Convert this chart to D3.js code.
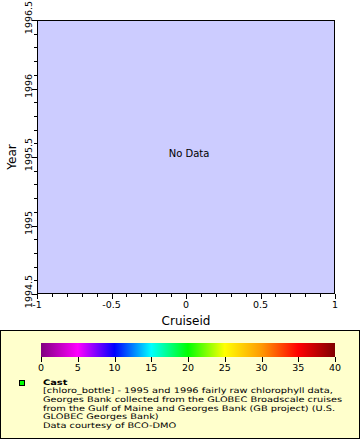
<!DOCTYPE html>
<html><head><meta charset="utf-8">
<script src="https://cdn.jsdelivr.net/npm/d3@7"></script>
<style>body{margin:0;background:#fff}svg{display:block;font-family:"DejaVu Sans",sans-serif}</style>
</head><body><svg id="c" width="360" height="440"></svg>
<script>
// Data (the reference has no data points)
const castCruiseid = [];
const castYear = [];
const xDomain = [-1, 1];
const yDomain = [1994.5, 1996.5];
const xTickLabels = ["-1", "-0.5", "0", "0.5", "1"];
const yTickLabels = ["1994.5", "1995", "1995.5", "1996", "1996.5"];
const cbarDomain = [0, 40];
const cbarTicks = [0, 5, 10, 15, 20, 25, 30, 35, 40];
const cbarStopValues = [0, 5, 10, 15, 20, 25, 30, 35, 40];
const cbarColors = ["#800080", "#ff00ff", "#0000ff", "#00ffff", "#00ff00", "#ffff00", "#ff9900", "#ff0000", "#800000"];
const legendTitle = "Cast";
const legendLines = [
  "[chloro_bottle] - 1995 and 1996 fairly raw chlorophyll data,",
  "Georges Bank collected from the GLOBEC Broadscale cruises",
  "from the Gulf of Maine and Georges Bank (GB project) (U.S.",
  "GLOBEC Georges Bank)",
  "Data courtesy of BCO-DMO"
];

const svg = d3.select("#c");
const L = 37, R = 335, T = 20, B = 294;
const x = d3.scaleLinear().domain(xDomain).range([L, R]);
const y = d3.scaleLinear().domain(yDomain).range([B, T]);

// plot background
svg.append("rect").attr("x", L + 0.5).attr("y", T + 0.5).attr("width", R - L - 1).attr("height", B - T - 1)
  .attr("fill", "#ccccff");

// minor ticks
const xMinor = d3.range(-10, 11).map(i => i / 10);
const yMinor = d3.range(0, 21).map(i => 1994.5 + i / 10);
svg.append("g").selectAll("line").data(xMinor).join("line")
  .attr("x1", d => Math.round(x(d)) + 0.5).attr("x2", d => Math.round(x(d)) + 0.5)
  .attr("y1", B).attr("y2", B + 3).attr("stroke", "#000");
svg.append("g").selectAll("line").data(yMinor).join("line")
  .attr("y1", d => Math.round(y(d)) + 0.5).attr("y2", d => Math.round(y(d)) + 0.5)
  .attr("x1", L - 3).attr("x2", L).attr("stroke", "#000");

// x axis major
const xt = xTickLabels.map(Number);
const gx = svg.append("g");
gx.selectAll("line").data(xt).join("line")
  .attr("x1", d => Math.round(x(d)) + 0.5).attr("x2", d => Math.round(x(d)) + 0.5)
  .attr("y1", B).attr("y2", B + 5).attr("stroke", "#000");
gx.selectAll("text").data(xTickLabels).join("text")
  .attr("x", d => x(+d)).attr("y", 308).attr("text-anchor", "middle")
  .attr("font-size", 9.5).text(d => d);

// y axis major
const yt = yTickLabels.map(Number);
const gy = svg.append("g");
gy.selectAll("line").data(yt).join("line")
  .attr("y1", d => Math.round(y(d)) + 0.5).attr("y2", d => Math.round(y(d)) + 0.5)
  .attr("x1", L - 5).attr("x2", L).attr("stroke", "#000");
gy.selectAll("text").data(yTickLabels).join("text")
  .attr("transform", d => `translate(32,${y(+d) - 2.5}) rotate(-90)`)
  .attr("text-anchor", "middle").attr("font-size", 9.5).text(d => d);

// frame
svg.append("rect").attr("x", L + 0.5).attr("y", T + 0.5).attr("width", R - L - 1).attr("height", B - T - 1)
  .attr("fill", "none").attr("stroke", "#000");

// points (none)
svg.append("g").selectAll("rect").data(castCruiseid.map((c, i) => [c, castYear[i]])).join("rect")
  .attr("x", d => x(d[0]) - 2).attr("y", d => y(d[1]) - 2).attr("width", 4).attr("height", 4).attr("fill", "#00ff00");

// No data message
svg.append("text").attr("x", (L + R) / 2 + 3).attr("y", 157).attr("text-anchor", "middle")
  .attr("font-size", 10).text("No Data");

// axis titles
svg.append("text").attr("x", (L + R) / 2).attr("y", 325).attr("text-anchor", "middle")
  .attr("font-size", 12).text("Cruiseid");
svg.append("text").attr("transform", `translate(16,${(T + B) / 2}) rotate(-90)`)
  .attr("text-anchor", "middle").attr("font-size", 12).text("Year");

// legend box
svg.append("rect").attr("x", 0.5).attr("y", 330.5).attr("width", 359).attr("height", 108)
  .attr("fill", "#ffffcc").attr("stroke", "#000");

// colorbar
const cx = d3.scaleLinear().domain(cbarDomain).range([41, 335]);
const defs = svg.append("defs");
const grad = defs.append("linearGradient").attr("id", "cb").attr("x1", "0%").attr("x2", "100%");
grad.selectAll("stop").data(cbarStopValues).join("stop")
  .attr("offset", d => ((cx(d) - 41) / 294 * 100) + "%")
  .attr("stop-color", (d, i) => cbarColors[i]);
svg.append("rect").attr("x", cx(cbarDomain[0])).attr("y", 343).attr("width", cx(cbarDomain[1]) - cx(cbarDomain[0]))
  .attr("height", 14).attr("fill", "url(#cb)");
const gc = svg.append("g");
gc.selectAll("line").data(cbarTicks).join("line")
  .attr("x1", d => Math.round(cx(d)) + 0.5).attr("x2", d => Math.round(cx(d)) + 0.5)
  .attr("y1", 357).attr("y2", 362).attr("stroke", "#000");
gc.selectAll("text").data(cbarTicks).join("text")
  .attr("x", d => cx(d)).attr("y", 371).attr("text-anchor", "middle").attr("font-size", 9.5).text(d => d);

// legend entry: glyphs ~7.6px tall, stretched as wide as a 9.8px line
function fitText(sel, fs, refFs) {
  sel.each(function() {
    const t = d3.select(this);
    t.attr("font-size", refFs);
    const w = this.getComputedTextLength();
    t.attr("font-size", fs).attr("textLength", w).attr("lengthAdjust", "spacingAndGlyphs");
  });
}
svg.append("rect").attr("x", 19.5).attr("y", 380.5).attr("width", 5).attr("height", 5)
  .attr("fill", "#00ff00").attr("stroke", "#000");
const titleT = svg.append("text").attr("x", 43).attr("y", 384.5).attr("font-weight", "bold").text(legendTitle);
fitText(titleT, 7.6, 9.8);
const lines = svg.append("g").selectAll("text").data(legendLines).join("text")
  .attr("x", 43).attr("y", (d, i) => 393.2 + i * 8.75).text(d => d);
fitText(lines, 7.6, 9.8);
</script></body></html>
